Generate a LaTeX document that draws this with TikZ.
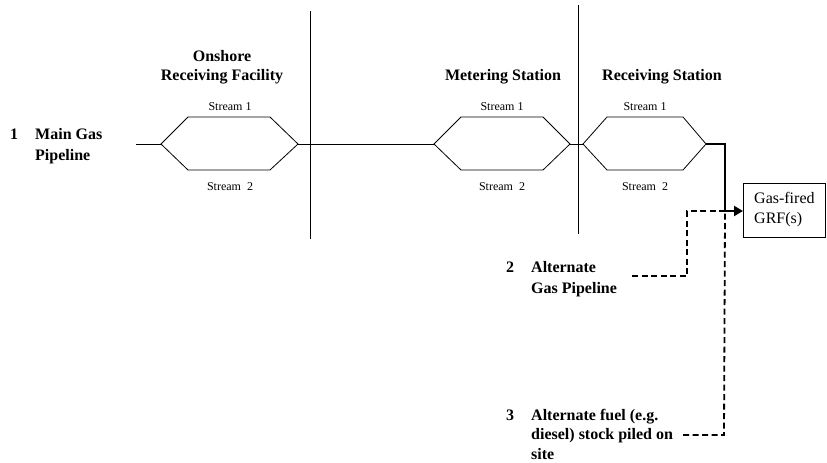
\documentclass[tikz,border=0pt]{standalone}
\usepackage{fontspec}
\setmainfont{Liberation Serif}
\usetikzlibrary{arrows.meta}
\tikzset{
  head/.style={font=\bfseries\fontsize{16}{19}\selectfont, align=center, inner sep=0pt, anchor=base},
  src/.style={font=\bfseries\fontsize{16}{21}\selectfont, align=left, inner sep=0pt, anchor=base west},
  stream/.style={font=\fontsize{12}{14}\selectfont, inner sep=0pt, anchor=base},
  pipe/.style={line width=0.8pt},
  feed/.style={line width=2.2pt},
  alt/.style={line width=1.8pt, dash pattern=on 6pt off 3.5pt},
}
\begin{document}
\begin{tikzpicture}[x=1pt,y=-1pt]
\useasboundingbox (0,0) rectangle (827,463);
% boundaries between the sites
\draw[pipe] (310,11)--(310,239);
\draw[pipe] (578,5)--(578,234);
% headings (base = last line)
\node[head] (orf) at (222,80) {Onshore\\Receiving Facility};
\node[head] (ms) at (503,80) {Metering Station};
\node[head] (rs) at (662,80) {Receiving Station};
% the three two-stream stations
\coordinate (in) at (136,144);
\coordinate (orfl) at (161,144);
\coordinate (orfr) at (298,144);
\coordinate (msl) at (434,144);
\coordinate (msr) at (570,144);
\coordinate (rsl) at (583,144);
\coordinate (rsr) at (706,144);
\draw[pipe] (orfl)--(188,117)--(270,117)--(orfr)--(270,170)--(188,170)--cycle;
\draw[pipe] (msl)--(461,117)--(543,117)--(msr)--(543,170)--(461,170)--cycle;
\draw[pipe] (rsl)--(607,117)--(683,117)--(rsr)--(683,170)--(607,170)--cycle;
\node[stream] (orf1) at (230,110) {Stream 1};
\node[stream] (orf2) at (230,190) {Stream \ 2};
\node[stream] (ms1) at (502,110) {Stream 1};
\node[stream] (ms2) at (502,190) {Stream \ 2};
\node[stream] (rs1) at (645,110) {Stream 1};
\node[stream] (rs2) at (645,190) {Stream \ 2};
\draw[pipe] (in)--(orfl);
\draw[pipe] (orfr)--(msl);
\draw[pipe] (msr)--(rsl);
% gas-fired plant
\node[draw, pipe, anchor=west, minimum height=54pt, minimum width=82pt,
  align=left, font=\fontsize{16}{20}\selectfont] (grf) at (743,210) {Gas-fired\\GRF(s)};
\coordinate (jn) at (725,211);
\draw[feed, -{Triangle[length=9pt,width=10pt]}] (rsr)--(725,144)--(jn)--(grf.west|-jn);
% sources
\node[src] (n1) at (10,139) {1};
\node[src] (main) at (35,160) {Main Gas\\Pipeline};
\node[src] (n2) at (506,272) {2};
\node[src] (alt) at (531,293) {Alternate\\Gas Pipeline};
\node[src] (n3) at (506,420) {3};
\node[src, font=\bfseries\fontsize{16}{19.5}\selectfont] (fuel) at (531,459) {Alternate fuel (e.g.\\diesel) stock piled on\\site};
\draw[alt] (632,276)--(687,276)--(687,211)--(jn);
\draw[alt] (683,435)--(724,435)--(jn);
\end{tikzpicture}
\end{document}
